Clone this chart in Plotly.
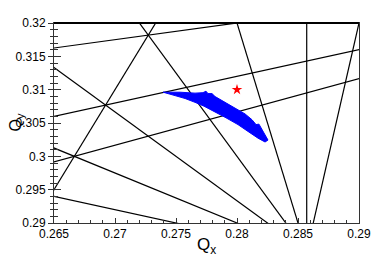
import plotly.graph_objects as go

# Resonance lines m*Qx + n*Qy = p
res_m = [2, 3, 4, 5, 6, 7, 8, -1, -2, -3, 6]
res_n = [5, 4, 3, 2, 1, 0, -1, 4, 5, 6, -2]
res_p = [2, 2, 2, 2, 2, 2, 2, 1, 1, 1, 1]

# Tune footprint outline
fp_qx = [0.27394, 0.27533, 0.27656, 0.27721, 0.27746, 0.27762, 0.27795, 0.27820,
         0.27902, 0.27984, 0.28066, 0.28123, 0.28156, 0.28180, 0.28205, 0.28238,
         0.28254, 0.28230, 0.28172, 0.28090, 0.28008, 0.27910, 0.27812, 0.27730,
         0.27656, 0.27574, 0.27492, 0.27410]
fp_qy = [0.30962, 0.30962, 0.30948, 0.30955, 0.30977, 0.30941, 0.30941, 0.30897,
         0.30810, 0.30723, 0.30636, 0.30549, 0.30476, 0.30483, 0.30404, 0.30302,
         0.30244, 0.30215, 0.30273, 0.30374, 0.30476, 0.30578, 0.30679, 0.30752,
         0.30810, 0.30868, 0.30911, 0.30948]

# Working point
wp_qx = [0.28]
wp_qy = [0.31]

x_range = [0.265, 0.29]
y_range = [0.29, 0.32]
x_tick_vals = [0.265, 0.27, 0.275, 0.28, 0.285, 0.29]
x_tick_text = ["0.265", "0.27", "0.275", "0.28", "0.285", "0.29"]
y_tick_vals = [0.29, 0.295, 0.3, 0.305, 0.31, 0.315, 0.32]
y_tick_text = ["0.29", "0.295", "0.3", "0.305", "0.31", "0.315", "0.32"]

FONT = "Liberation Sans, Arial, sans-serif"

fig = go.Figure()

for m, n, p in zip(res_m, res_n, res_p):
    if n == 0:
        xs = [p / m, p / m]
        ys = [0.28, 0.33]
    else:
        xs = [0.26, 0.295]
        ys = [(p - m * q) / n for q in xs]
    fig.add_trace(go.Scatter(x=xs, y=ys, mode="lines",
                             line=dict(color="black", width=1.2),
                             hoverinfo="skip", showlegend=False))

fig.add_trace(go.Scatter(x=fp_qx + [fp_qx[0]], y=fp_qy + [fp_qy[0]], mode="lines",
                         fill="toself", fillcolor="#0000ff",
                         line=dict(color="#0000ff", width=1),
                         showlegend=False))

fig.add_trace(go.Scatter(x=wp_qx, y=wp_qy, mode="markers",
                         marker=dict(symbol="star", size=8, color="#ff0000"),
                         showlegend=False))

# helper trace for inner y ticks
fig.add_trace(go.Scatter(x=[None], y=[None], yaxis="y2", showlegend=False))

fig.update_layout(
    width=374, height=252,
    margin=dict(l=46, r=23, t=8, b=37),
    plot_bgcolor="white", paper_bgcolor="white",
    font=dict(family=FONT, size=12, color="black"),
    xaxis=dict(range=x_range, tickvals=x_tick_vals, ticktext=x_tick_text,
               ticks="inside", ticklen=5, tickcolor="#333", showgrid=False,
               zeroline=False, showline=True, linecolor="#333", linewidth=1,
               mirror=True,
               minor=dict(dtick=0.001, ticks="inside", ticklen=3, tickcolor="#333",
                          showgrid=False),
               tickfont=dict(size=12)),
    yaxis=dict(range=y_range, tickvals=y_tick_vals, ticktext=y_tick_text,
               ticks="outside", ticklen=5, tickcolor="#333", showgrid=False,
               zeroline=False, showline=True, linecolor="#333", linewidth=1,
               mirror=True,
               minor=dict(dtick=0.001, ticks="outside", ticklen=3, tickcolor="#333",
                          showgrid=False),
               tickfont=dict(size=12)),
    yaxis2=dict(range=y_range, overlaying="y", side="left", anchor="x",
                tickvals=y_tick_vals, showticklabels=False,
                ticks="inside", ticklen=7, tickcolor="#333", showgrid=False,
                zeroline=False, showline=False,
                minor=dict(dtick=0.001, ticks="inside", ticklen=4, tickcolor="#333",
                           showgrid=False)),
    shapes=[dict(type="line", xref="paper", yref="paper", x0=0, x1=1, y0=1, y1=1,
                 line=dict(color="black", width=2))],
    annotations=[
        dict(text="Q<sub>x</sub>", xref="paper", yref="paper", x=0.5, y=-0.115,
             xanchor="center", yanchor="middle", showarrow=False,
             font=dict(size=17, family=FONT)),
        dict(text="Q<sub>y</sub>", xref="paper", yref="paper", x=-0.126, y=0.5,
             xanchor="center", yanchor="middle", showarrow=False, textangle=-90,
             font=dict(size=16, family=FONT)),
    ],
)

fig.write_html("out.html")
